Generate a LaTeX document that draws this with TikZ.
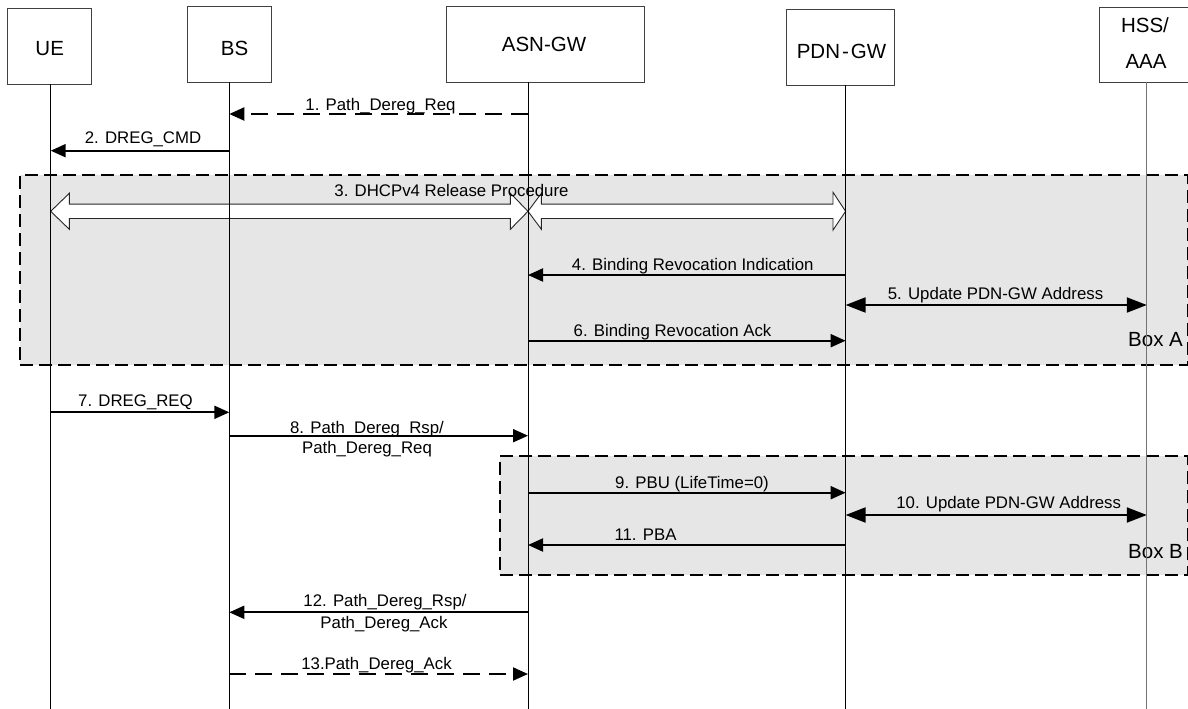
\documentclass[tikz,border=0pt]{standalone}
\usepackage{fontspec}
\setmainfont{Liberation Sans}
\usetikzlibrary{arrows.meta,calc}
\definecolor{grpfill}{HTML}{E6E6E6}
\definecolor{boxline}{HTML}{404040}
\begin{document}
\begin{tikzpicture}[x=1pt,y=-1pt,
  ent/.style={draw=boxline, line width=1.1pt, fill=white, inner sep=0pt, anchor=north west},
  ttl/.style={inner sep=0pt, anchor=base, font=\fontsize{20.5}{24}\selectfont},
  lbl/.style={inner sep=0pt, anchor=base, font=\fontsize{16.8}{20}\selectfont},
  boxlbl/.style={inner sep=0pt, anchor=base west, font=\fontsize{20.5}{24}\selectfont},
  msg/.style={line width=2pt, -{Triangle[length=15pt,width=13pt]}},
  msgdash/.style={msg, dash pattern=on 17pt off 9pt},
  bidir/.style={line width=2pt, {Triangle[length=20pt,width=15pt]}-{Triangle[length=20pt,width=15pt]}},
  lifeline/.style={line width=1pt, draw=black},
  grp/.style={draw=black, fill=grpfill, line width=2pt, dash pattern=on 13pt off 6pt, inner sep=0pt, anchor=north west},
  hollow/.style={draw=black!85, fill=white, line width=0.9pt, line join=miter}
]
\useasboundingbox (0,0) rectangle (1188,709);
\clip (0,0) rectangle (1188,709);

% group boxes
\node[grp, minimum width=1168pt, minimum height=190pt] (boxA) at (19,174) {};
\node[grp, minimum width=688pt, minimum height=119.3pt] (boxB) at (499,455) {};
\node[boxlbl] (boxAlbl) at (1128,346.7) {Box A};
\node[boxlbl] (boxBlbl) at (1128,558.3) {Box B};

% entity boxes
\node[ent, minimum width=84pt, minimum height=75.7pt] (ue) at (7.3,8.3) {};
\node[ent, minimum width=84pt, minimum height=76pt] (bs) at (187,6) {};
\node[ent, minimum width=197.5pt, minimum height=75.7pt] (asn) at (446,6) {};
\node[ent, minimum width=108pt, minimum height=75.7pt] (pdn) at (786,9.3) {};
\node[ent, minimum width=96pt, minimum height=75pt] (hss) at (1099,6.7) {};

\node[ttl] (ueT) at (49.7,56) {UE};
\node[ttl] (bsT) at (234.5,55.5) {BS};
\node[ttl] (asnT) at (544,51.7) {ASN-GW};
\node[ttl] (pdnT) at (841.5,58.5) {PDN\kern2pt-\kern2pt GW};
\node[ttl] (hssT1) at (1145,33) {HSS/};
\node[ttl] (hssT2) at (1146,68) {AAA};

% lifeline anchors
\coordinate (ueTop) at (50.7,84);
\coordinate (bsTop) at (229.3,82);
\coordinate (asnTop) at (528,81.7);
\coordinate (pdnTop) at (845.6,85);
\coordinate (hssTop) at (1146.8,81.7);
\coordinate (ueBot) at (50.7,709);
\coordinate (bsBot) at (229.3,709);
\coordinate (asnBot) at (528,709);
\coordinate (pdnBot) at (845.6,709);
\coordinate (hssBot) at (1146.8,709);

% message rows
\coordinate (r1) at (0,114);
\coordinate (r2) at (0,150.7);
\coordinate (r3) at (0,211.3);
\coordinate (r4) at (0,275);
\coordinate (r5) at (0,305);
\coordinate (r6) at (0,340.7);
\coordinate (r7) at (0,412.3);
\coordinate (r8) at (0,435.7);
\coordinate (r9) at (0,492.7);
\coordinate (r10) at (0,515);
\coordinate (r11) at (0,545);
\coordinate (r12) at (0,612.3);
\coordinate (r13) at (0,674);

% 3. hollow double arrows
\path (ueTop |- r3) coordinate (h1) (asnTop |- r3) coordinate (h2) (pdnTop |- r3) coordinate (h3);
\draw[hollow] (h1) -- ++(18.6,-18) -- ++(0,10.8) -- ($(h2)+(-17.6,-7.2)$) -- ++(0,-10.8)
  -- (h2) -- ++(-17.6,18) -- ++(0,-10.8) -- ($(h1)+(18.6,7.2)$) -- ++(0,10.8) -- cycle;
\draw[hollow] (h2) -- ++(13.4,-18) -- ++(0,10.8) -- ($(h3)+(-12.6,-7.2)$) -- ++(0,-11.8)
  -- (h3) -- ++(-12.6,18.8) -- ++(0,-11.6) -- ($(h2)+(13.4,7.2)$) -- ++(0,10.8) -- cycle;

% lifelines
\draw[lifeline] (ueTop) -- (ueBot);
\draw[lifeline] (bsTop) -- (bsBot);
\draw[lifeline] (asnTop) -- (asnBot);
\draw[lifeline] (pdnTop) -- (pdnBot);
\draw[lifeline, draw=black!55, line width=1.2pt] (hssTop) -- (hssBot);

% messages
\draw[msgdash] (asnTop |- r1) -- (bsTop |- r1);
\node[lbl] (l1) at (380.5,110) {1. Path\_Dereg\_Req};
\draw[msg] (bsTop |- r2) -- (ueTop |- r2);
\node[lbl] (l2) at (143,143.3) {2. DREG\_CMD};
\node[lbl] (l3) at (451.5,196.5) {3. DHCPv4 Release Procedure};
\draw[msg] (pdnTop |- r4) -- (asnTop |- r4);
\node[lbl] (l4) at (692.7,270) {4. Binding Revocation Indication};
\draw[bidir] (pdnTop |- r5) -- (hssTop |- r5);
\node[lbl] (l5) at (995.5,299.5) {5. Update PDN-GW Address};
\draw[msg] (asnTop |- r6) -- (pdnTop |- r6);
\node[lbl] (l6) at (672.5,336) {6. Binding Revocation Ack};
\draw[msg] (ueTop |- r7) -- (bsTop |- r7);
\node[lbl] (l7) at (135.5,406.7) {7. DREG\_REQ};
\draw[msg] (bsTop |- r8) -- (asnTop |- r8);
\node[lbl] (l8a) at (367,433) {8. Path\_Dereg\_Rsp/};
\node[lbl] (l8b) at (367,453) {Path\_Dereg\_Req};
\draw[msg] (asnTop |- r9) -- (pdnTop |- r9);
\node[lbl] (l9) at (692,488) {9. PBU (LifeTime=0)};
\draw[bidir] (pdnTop |- r10) -- (hssTop |- r10);
\node[lbl] (l10) at (1008.7,508.3) {10. Update PDN-GW Address};
\draw[msg] (pdnTop |- r11) -- (asnTop |- r11);
\node[lbl] (l11) at (645.5,540) {11. PBA};
\draw[msg] (asnTop |- r12) -- (bsTop |- r12);
\node[lbl] (l12a) at (385,606.7) {12. Path\_Dereg\_Rsp/};
\node[lbl] (l12b) at (384,628.3) {Path\_Dereg\_Ack};
\draw[msgdash] (bsTop |- r13) -- (asnTop |- r13);
\node[lbl] (l13) at (376.5,669.3) {13.Path\_Dereg\_Ack};
\end{tikzpicture}
\end{document}
